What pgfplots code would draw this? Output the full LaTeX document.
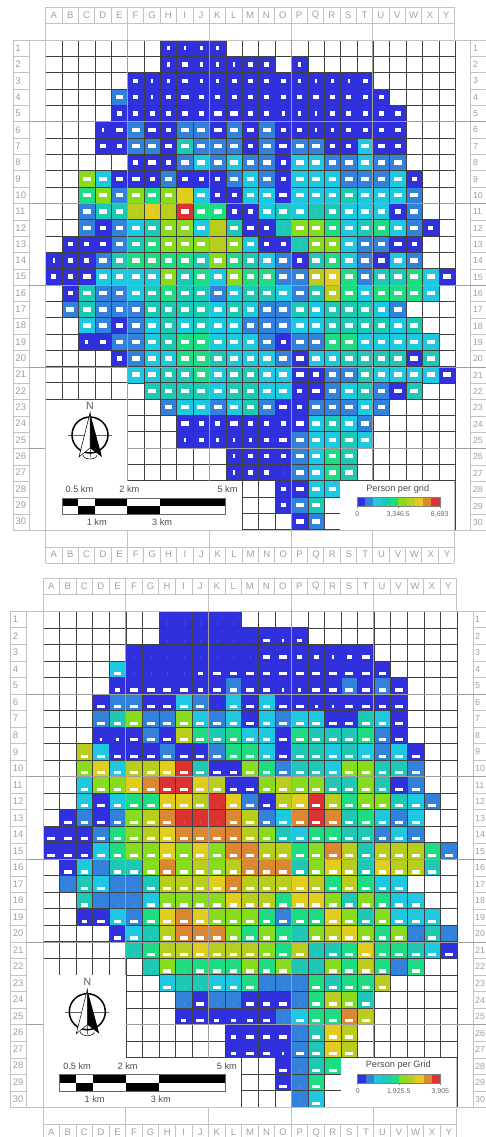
\documentclass[border=0pt]{standalone}
\usepackage{fontspec}
\setmainfont{Liberation Sans}
\usepackage{pgfplots}
\usepackage{pgfplotstable}
\pgfplotsset{compat=1.18}
\usetikzlibrary{plotmarks}

% class colours, lowest to highest
\definecolor{c0}{RGB}{48,48,220}
\definecolor{c1}{RGB}{50,130,220}
\definecolor{c2}{RGB}{30,200,225}
\definecolor{c3}{RGB}{30,200,180}
\definecolor{c4}{RGB}{30,220,130}
\definecolor{c5}{RGB}{135,220,30}
\definecolor{c6}{RGB}{185,205,30}
\definecolor{c7}{RGB}{225,205,30}
\definecolor{c8}{RGB}{220,135,50}
\definecolor{c9}{RGB}{220,50,50}
\definecolor{framegray}{RGB}{195,195,195}
\definecolor{labelgray}{RGB}{160,160,160}

% white markers: centred (upper map), at the cell's foot (lower map)
\pgfdeclareplotmark{wmid}{\pgfpathrectangle{\pgfpoint{-\pgfplotmarksize}{-2.2pt}}{\pgfpoint{2\pgfplotmarksize}{4.4pt}}\pgfusepathqfill}
\pgfdeclareplotmark{wlow}{\pgfpathrectangle{\pgfpoint{-\pgfplotmarksize}{-6.1pt}}{\pgfpoint{2\pgfplotmarksize}{3.3pt}}\pgfusepathqfill}

% columns: x=column, y=row, c=colour class, w=white marker width (0 none)
\pgfplotstableread[row sep=\\]{
x y c w\\
8 1 0 1\\9 1 0 1\\10 1 0 1\\11 1 0 1\\
8 2 0 1\\9 2 0 2\\10 2 0 1\\11 2 0 1\\12 2 0 1\\13 2 0 2\\14 2 0 2\\16 2 0 1\\
6 3 0 2\\7 3 0 1\\8 3 0 1\\9 3 0 2\\10 3 0 1\\11 3 0 1\\12 3 0 2\\13 3 0 2\\14 3 0 2\\15 3 0 2\\16 3 0 1\\17 3 0 1\\18 3 0 1\\19 3 0 1\\20 3 0 2\\
5 4 1 3\\6 4 0 2\\7 4 0 1\\8 4 0 2\\9 4 0 3\\10 4 0 2\\11 4 0 2\\12 4 0 2\\13 4 0 2\\14 4 0 2\\15 4 0 2\\16 4 0 2\\17 4 0 2\\18 4 0 2\\19 4 0 2\\20 4 0 2\\21 4 0 2\\
5 5 0 2\\6 5 0 2\\7 5 0 2\\8 5 0 2\\9 5 0 2\\10 5 0 2\\11 5 0 3\\12 5 0 3\\13 5 0 2\\14 5 0 2\\15 5 0 1\\16 5 0 1\\17 5 0 1\\18 5 0 2\\19 5 0 2\\20 5 0 2\\21 5 0 2\\22 5 0 2\\
4 6 0 1\\5 6 0 3\\6 6 1 3\\7 6 0 3\\8 6 0 2\\9 6 1 3\\10 6 1 3\\11 6 0 3\\12 6 1 3\\13 6 0 3\\14 6 1 3\\15 6 0 2\\16 6 0 2\\17 6 0 1\\18 6 0 1\\19 6 0 2\\20 6 0 2\\21 6 0 2\\22 6 0 2\\
4 7 0 2\\5 7 0 2\\6 7 1 3\\7 7 1 3\\8 7 0 3\\9 7 3 3\\10 7 1 3\\11 7 1 3\\12 7 1 3\\13 7 0 2\\14 7 1 3\\15 7 0 3\\16 7 1 3\\17 7 1 3\\18 7 0 2\\19 7 0 2\\20 7 2 3\\21 7 0 3\\22 7 0 2\\
6 8 0 2\\7 8 0 3\\8 8 0 2\\9 8 1 3\\10 8 2 3\\11 8 1 3\\12 8 2 3\\13 8 1 3\\14 8 1 3\\15 8 0 2\\16 8 2 3\\17 8 2 3\\18 8 1 3\\19 8 1 3\\20 8 2 3\\21 8 1 3\\22 8 1 3\\
3 9 5 3\\4 9 2 3\\5 9 0 3\\6 9 0 3\\7 9 0 2\\8 9 1 3\\9 9 0 2\\10 9 0 2\\11 9 0 2\\12 9 1 3\\13 9 2 3\\14 9 1 3\\15 9 0 2\\16 9 2 3\\17 9 2 3\\18 9 2 3\\19 9 1 3\\20 9 1 3\\21 9 1 3\\22 9 2 3\\23 9 0 2\\
3 10 4 3\\4 10 5 3\\5 10 1 3\\6 10 5 3\\7 10 4 3\\8 10 5 3\\9 10 7 0\\10 10 2 3\\11 10 0 2\\12 10 0 2\\13 10 2 3\\14 10 2 3\\15 10 0 3\\16 10 2 3\\17 10 2 3\\18 10 2 3\\19 10 3 3\\20 10 2 3\\21 10 2 3\\22 10 2 3\\23 10 1 3\\
3 11 1 3\\4 11 3 3\\5 11 3 3\\6 11 6 0\\7 11 7 0\\8 11 6 0\\9 11 9 3\\10 11 4 3\\11 11 4 3\\12 11 0 2\\13 11 0 2\\14 11 2 3\\15 11 3 3\\16 11 2 3\\17 11 3 0\\18 11 3 3\\19 11 2 3\\20 11 2 3\\21 11 2 3\\22 11 0 2\\23 11 1 3\\
3 12 1 3\\4 12 0 2\\5 12 1 3\\6 12 2 3\\7 12 3 3\\8 12 5 3\\9 12 5 3\\10 12 2 3\\11 12 6 0\\12 12 3 3\\13 12 0 3\\14 12 0 2\\15 12 3 0\\16 12 5 3\\17 12 5 3\\18 12 4 3\\19 12 2 3\\20 12 3 3\\21 12 4 3\\22 12 2 3\\23 12 1 3\\24 12 0 2\\
2 13 0 2\\3 13 0 2\\4 13 0 2\\5 13 1 3\\6 13 3 3\\7 13 4 3\\8 13 5 3\\9 13 5 3\\10 13 5 3\\11 13 6 0\\12 13 5 3\\13 13 2 3\\14 13 0 2\\15 13 0 2\\16 13 3 0\\17 13 5 3\\18 13 5 3\\19 13 2 3\\20 13 1 3\\21 13 1 3\\22 13 0 3\\23 13 0 2\\
1 14 0 1\\2 14 0 2\\3 14 0 2\\4 14 1 3\\5 14 3 3\\6 14 4 3\\7 14 4 3\\8 14 4 3\\9 14 4 3\\10 14 3 3\\11 14 5 3\\12 14 4 3\\13 14 3 3\\14 14 2 3\\15 14 1 3\\16 14 0 2\\17 14 3 3\\18 14 4 3\\19 14 2 3\\20 14 1 3\\21 14 0 3\\22 14 2 3\\23 14 1 3\\
1 15 0 2\\2 15 0 2\\3 15 0 3\\4 15 2 3\\5 15 2 3\\6 15 2 3\\7 15 2 3\\8 15 5 3\\9 15 3 3\\10 15 4 3\\11 15 2 3\\12 15 5 3\\13 15 4 3\\14 15 4 3\\15 15 1 3\\16 15 1 3\\17 15 6 3\\18 15 7 3\\19 15 4 3\\20 15 1 3\\21 15 3 3\\22 15 3 3\\23 15 4 3\\24 15 2 3\\25 15 0 3\\
2 16 0 2\\3 16 3 3\\4 16 1 3\\5 16 1 3\\6 16 2 3\\7 16 3 3\\8 16 4 3\\9 16 3 3\\10 16 3 3\\11 16 1 3\\12 16 2 3\\13 16 3 3\\14 16 3 3\\15 16 2 3\\16 16 1 3\\17 16 3 3\\18 16 6 3\\19 16 4 3\\20 16 2 3\\21 16 4 3\\22 16 4 3\\23 16 4 3\\24 16 2 3\\
2 17 1 3\\3 17 3 3\\4 17 1 3\\5 17 1 3\\6 17 1 3\\7 17 3 3\\8 17 3 3\\9 17 3 3\\10 17 3 3\\11 17 2 3\\12 17 3 3\\13 17 2 3\\14 17 1 3\\15 17 1 3\\16 17 3 3\\17 17 2 3\\18 17 3 3\\19 17 3 3\\20 17 3 3\\21 17 2 3\\22 17 1 3\\
3 18 2 3\\4 18 1 3\\5 18 0 3\\6 18 1 3\\7 18 2 3\\8 18 3 3\\9 18 2 3\\10 18 3 3\\11 18 2 3\\12 18 2 3\\13 18 1 3\\14 18 1 3\\15 18 1 3\\16 18 2 3\\17 18 2 3\\18 18 3 3\\19 18 3 3\\20 18 3 3\\21 18 3 3\\22 18 2 3\\23 18 3 3\\
3 19 0 1\\4 19 0 2\\5 19 1 3\\6 19 1 3\\7 19 2 3\\8 19 3 3\\9 19 4 3\\10 19 4 3\\11 19 2 3\\12 19 2 3\\13 19 2 3\\14 19 1 3\\15 19 0 2\\16 19 1 3\\17 19 1 3\\18 19 4 3\\19 19 4 3\\20 19 2 3\\21 19 2 3\\22 19 2 3\\23 19 2 3\\24 19 2 3\\
5 20 0 2\\6 20 1 3\\7 20 2 3\\8 20 2 3\\9 20 4 3\\10 20 4 3\\11 20 3 3\\12 20 2 3\\13 20 2 3\\14 20 2 3\\15 20 1 3\\16 20 0 3\\17 20 2 3\\18 20 2 3\\19 20 3 3\\20 20 3 3\\21 20 3 3\\22 20 3 3\\23 20 0 3\\24 20 3 3\\
6 21 2 3\\7 21 2 3\\8 21 3 3\\9 21 3 3\\10 21 4 3\\11 21 2 3\\12 21 3 3\\13 21 3 3\\14 21 2 3\\15 21 2 3\\16 21 0 3\\17 21 0 2\\18 21 1 3\\19 21 1 3\\20 21 3 3\\21 21 2 3\\22 21 2 3\\23 21 2 3\\24 21 2 3\\25 21 0 3\\
7 22 3 3\\8 22 3 3\\9 22 3 3\\10 22 3 3\\11 22 2 3\\12 22 3 3\\13 22 3 3\\14 22 2 3\\15 22 2 3\\16 22 0 2\\17 22 0 3\\18 22 1 3\\19 22 2 3\\20 22 3 3\\21 22 1 3\\22 22 0 3\\23 22 3 3\\
8 23 1 3\\9 23 2 3\\10 23 2 3\\11 23 1 3\\12 23 2 3\\13 23 3 3\\14 23 1 3\\15 23 0 3\\16 23 0 2\\17 23 1 3\\18 23 1 3\\19 23 1 3\\20 23 2 3\\21 23 1 3\\
9 24 0 3\\10 24 0 2\\11 24 0 2\\12 24 0 3\\13 24 0 2\\14 24 0 2\\15 24 0 2\\16 24 0 3\\17 24 2 3\\18 24 3 3\\19 24 2 3\\20 24 1 3\\
9 25 0 1\\10 25 0 2\\11 25 0 1\\12 25 0 1\\13 25 0 1\\14 25 0 2\\15 25 0 3\\16 25 1 3\\17 25 2 3\\18 25 2 3\\19 25 3 3\\20 25 2 3\\
12 26 0 1\\13 26 0 2\\14 26 0 2\\15 26 0 2\\16 26 1 3\\17 26 2 3\\18 26 4 3\\19 26 3 3\\
12 27 0 1\\13 27 0 2\\14 27 0 2\\15 27 0 0\\16 27 1 3\\17 27 2 3\\18 27 4 3\\19 27 3 3\\
15 28 0 2\\16 28 0 3\\17 28 2 3\\18 28 2 3\\
15 29 0 2\\16 29 1 3\\17 29 3 3\\
16 30 0 3\\17 30 1 3\\
}\mapA

\pgfplotstableread[row sep=\\]{
x y c w\\
8 1 0 0\\9 1 0 0\\10 1 0 0\\11 1 0 0\\12 1 0 0\\
8 2 0 0\\9 2 0 0\\10 2 0 0\\11 2 0 0\\12 2 0 0\\13 2 0 0\\14 2 0 3\\15 2 0 1\\16 2 0 2\\
6 3 0 0\\7 3 0 0\\8 3 0 0\\9 3 0 0\\10 3 0 0\\11 3 0 0\\12 3 0 0\\13 3 0 0\\14 3 0 3\\15 3 0 3\\16 3 0 2\\17 3 0 2\\18 3 0 1\\19 3 0 2\\20 3 0 3\\
5 4 2 3\\6 4 0 0\\7 4 0 0\\8 4 0 0\\9 4 0 0\\10 4 0 2\\11 4 0 3\\12 4 0 3\\13 4 0 3\\14 4 0 3\\15 4 0 3\\16 4 0 3\\17 4 0 3\\18 4 0 3\\19 4 0 3\\20 4 0 3\\21 4 0 3\\
5 5 0 2\\6 5 0 3\\7 5 0 3\\8 5 0 3\\9 5 0 3\\10 5 0 2\\11 5 0 3\\12 5 1 3\\13 5 0 3\\14 5 0 3\\15 5 0 1\\16 5 0 1\\17 5 0 3\\18 5 0 3\\19 5 1 3\\20 5 0 3\\21 5 1 3\\22 5 0 3\\
4 6 0 3\\5 6 1 3\\6 6 1 3\\7 6 0 3\\8 6 0 3\\9 6 2 3\\10 6 1 3\\11 6 0 0\\12 6 2 3\\13 6 0 3\\14 6 2 3\\15 6 0 3\\16 6 0 3\\17 6 0 1\\18 6 0 1\\19 6 0 3\\20 6 0 3\\21 6 0 3\\22 6 0 3\\
4 7 1 3\\5 7 3 3\\6 7 5 3\\7 7 1 3\\8 7 1 3\\9 7 5 3\\10 7 2 3\\11 7 1 3\\12 7 2 3\\13 7 0 3\\14 7 2 3\\15 7 1 3\\16 7 2 3\\17 7 2 3\\18 7 0 3\\19 7 0 3\\20 7 3 3\\21 7 2 3\\22 7 0 3\\
4 8 0 1\\5 8 0 1\\6 8 0 3\\7 8 1 3\\8 8 0 3\\9 8 6 3\\10 8 4 3\\11 8 3 3\\12 8 4 3\\13 8 2 3\\14 8 2 3\\15 8 0 3\\16 8 4 3\\17 8 3 3\\18 8 3 3\\19 8 3 3\\20 8 4 3\\21 8 1 3\\22 8 0 3\\
3 9 6 3\\4 9 2 3\\5 9 0 3\\6 9 0 3\\7 9 0 3\\8 9 1 3\\9 9 0 3\\10 9 0 3\\11 9 1 3\\12 9 4 3\\13 9 4 3\\14 9 2 3\\15 9 0 3\\16 9 3 3\\17 9 3 3\\18 9 2 3\\19 9 3 3\\20 9 2 3\\21 9 1 3\\22 9 2 3\\23 9 0 3\\
3 10 5 3\\4 10 7 3\\5 10 2 3\\6 10 6 3\\7 10 6 3\\8 10 7 3\\9 10 9 3\\10 10 3 3\\11 10 0 3\\12 10 0 3\\13 10 5 3\\14 10 4 3\\15 10 1 3\\16 10 3 3\\17 10 3 3\\18 10 2 3\\19 10 5 3\\20 10 5 3\\21 10 3 3\\22 10 3 3\\23 10 1 3\\
3 11 2 3\\4 11 5 3\\5 11 5 3\\6 11 7 3\\7 11 8 3\\8 11 9 3\\9 11 9 3\\10 11 7 3\\11 11 6 3\\12 11 0 3\\13 11 0 3\\14 11 5 3\\15 11 6 3\\16 11 5 3\\17 11 5 3\\18 11 3 3\\19 11 3 3\\20 11 5 3\\21 11 3 3\\22 11 0 3\\23 11 1 3\\
3 12 2 3\\4 12 0 3\\5 12 2 3\\6 12 4 3\\7 12 4 3\\8 12 7 3\\9 12 7 3\\10 12 6 3\\11 12 9 0\\12 12 7 3\\13 12 1 3\\14 12 0 3\\15 12 6 3\\16 12 7 3\\17 12 9 3\\18 12 6 3\\19 12 4 3\\20 12 5 3\\21 12 5 3\\22 12 3 3\\23 12 2 3\\24 12 1 3\\
2 13 0 3\\3 13 1 3\\4 13 0 3\\5 13 1 3\\6 13 5 3\\7 13 6 3\\8 13 8 3\\9 13 9 0\\10 13 9 0\\11 13 9 0\\12 13 8 3\\13 13 6 3\\14 13 1 3\\15 13 2 3\\16 13 8 3\\17 13 9 3\\18 13 8 3\\19 13 3 3\\20 13 4 3\\21 13 2 3\\22 13 1 3\\23 13 2 3\\
1 14 0 3\\2 14 0 3\\3 14 0 3\\4 14 1 3\\5 14 4 3\\6 14 5 3\\7 14 6 3\\8 14 7 3\\9 14 8 3\\10 14 8 3\\11 14 8 3\\12 14 8 3\\13 14 6 3\\14 14 5 3\\15 14 3 3\\16 14 2 3\\17 14 4 3\\18 14 4 3\\19 14 3 3\\20 14 3 3\\21 14 1 3\\22 14 2 3\\23 14 1 3\\
1 15 0 3\\2 15 0 3\\3 15 0 3\\4 15 2 3\\5 15 4 3\\6 15 5 3\\7 15 5 3\\8 15 7 3\\9 15 5 3\\10 15 7 3\\11 15 5 3\\12 15 8 3\\13 15 8 3\\14 15 6 3\\15 15 6 3\\16 15 4 3\\17 15 5 3\\18 15 8 3\\19 15 6 3\\20 15 3 3\\21 15 6 3\\22 15 6 3\\23 15 6 3\\24 15 4 3\\25 15 1 3\\
2 16 0 3\\3 16 2 3\\4 16 1 0\\5 16 3 3\\6 16 3 3\\7 16 5 3\\8 16 8 3\\9 16 5 3\\10 16 6 3\\11 16 5 3\\12 16 6 3\\13 16 8 3\\14 16 8 3\\15 16 8 3\\16 16 3 3\\17 16 5 3\\18 16 7 3\\19 16 6 3\\20 16 3 3\\21 16 7 3\\22 16 6 3\\23 16 6 3\\24 16 3 3\\
2 17 1 0\\3 17 3 3\\4 17 2 3\\5 17 1 0\\6 17 1 0\\7 17 3 3\\8 17 6 3\\9 17 6 3\\10 17 6 3\\11 17 7 3\\12 17 8 3\\13 17 6 3\\14 17 6 3\\15 17 6 3\\16 17 7 3\\17 17 6 3\\18 17 4 3\\19 17 6 3\\20 17 4 3\\21 17 2 3\\22 17 2 3\\
3 18 3 3\\4 18 1 0\\5 18 1 0\\6 18 1 0\\7 18 2 3\\8 18 5 3\\9 18 5 3\\10 18 5 3\\11 18 5 3\\12 18 7 3\\13 18 6 3\\14 18 6 3\\15 18 4 3\\16 18 7 3\\17 18 7 3\\18 18 5 3\\19 18 3 3\\20 18 5 3\\21 18 4 3\\22 18 2 3\\23 18 2 3\\
3 19 0 2\\4 19 0 3\\5 19 2 3\\6 19 1 3\\7 19 4 3\\8 19 7 3\\9 19 8 3\\10 19 7 3\\11 19 5 3\\12 19 5 3\\13 19 5 3\\14 19 4 3\\15 19 1 3\\16 19 4 3\\17 19 4 3\\18 19 7 3\\19 19 5 3\\20 19 3 3\\21 19 5 3\\22 19 2 3\\23 19 2 3\\24 19 2 3\\
5 20 0 3\\6 20 2 3\\7 20 3 0\\8 20 6 3\\9 20 8 3\\10 20 8 3\\11 20 8 3\\12 20 5 3\\13 20 4 3\\14 20 5 3\\15 20 4 3\\16 20 3 0\\17 20 5 3\\18 20 6 3\\19 20 7 3\\20 20 5 3\\21 20 4 3\\22 20 5 3\\23 20 1 0\\24 20 3 3\\25 20 1 0\\
6 21 3 0\\7 21 4 3\\8 21 6 3\\9 21 6 3\\10 21 7 3\\11 21 6 3\\12 21 6 3\\13 21 6 3\\14 21 5 3\\15 21 4 3\\16 21 6 3\\17 21 3 0\\18 21 3 3\\19 21 4 3\\20 21 7 3\\21 21 4 3\\22 21 4 3\\23 21 3 3\\24 21 2 3\\25 21 0 3\\
7 22 3 0\\8 22 5 3\\9 22 4 0\\10 22 4 3\\11 22 4 3\\12 22 4 3\\13 22 5 3\\14 22 4 3\\15 22 5 3\\16 22 3 0\\17 22 3 0\\18 22 5 3\\19 22 4 3\\20 22 6 3\\21 22 4 3\\22 22 1 0\\23 22 4 3\\
8 23 2 3\\9 23 3 0\\10 23 3 0\\11 23 2 3\\12 23 2 3\\13 23 4 3\\14 23 1 0\\15 23 1 0\\16 23 1 0\\17 23 4 3\\18 23 3 3\\19 23 4 3\\20 23 4 3\\21 23 6 3\\
9 24 1 0\\10 24 0 3\\11 24 1 0\\12 24 1 0\\13 24 0 3\\14 24 0 3\\15 24 0 3\\16 24 1 0\\17 24 4 3\\18 24 6 3\\19 24 5 3\\20 24 3 3\\
9 25 0 2\\10 25 0 3\\11 25 0 2\\12 25 0 2\\13 25 0 2\\14 25 0 3\\15 25 1 0\\16 25 2 3\\17 25 4 3\\18 25 4 3\\19 25 8 3\\20 25 6 3\\
12 26 0 2\\13 26 0 3\\14 26 0 3\\15 26 0 3\\16 26 1 0\\17 26 3 3\\18 26 7 3\\19 26 6 3\\
12 27 0 2\\13 27 0 3\\14 27 0 3\\15 27 0 1\\16 27 1 3\\17 27 3 3\\18 27 7 3\\19 27 6 3\\
15 28 0 3\\16 28 1 0\\17 28 3 3\\18 28 4 3\\
15 29 0 3\\16 29 1 0\\17 29 4 3\\
16 30 1 0\\17 30 2 3\\
}\mapB

\pgfplotsset{
  gridmap/.style={
    scale only axis,
    anchor=north west,
    xmin=0.5, xmax=25.5,
    ymin=0.5, ymax=30.5,
    y dir=reverse,
    xtick={1,...,25},
    xticklabels={A,B,C,D,E,F,G,H,I,J,K,L,M,N,O,P,Q,R,S,T,U,V,W,X,Y},
    ytick={1,...,30},
    yticklabels={1,2,3,4,5,6,7,8,9,10,11,12,13,14,15,16,17,18,19,20,21,22,23,24,25,26,27,28,29,30},
    minor xtick={0.5,1.5,...,25.5},
    minor ytick={0.5,1.5,...,30.5},
    xminorgrids=true, yminorgrids=true,
    minor grid style={black!75, line width=0.6pt},
    major tick length=0pt, minor tick length=0pt,
    axis line style={black!75, line width=0.6pt},
    axis on top,
    xticklabel shift=21pt, yticklabel shift=20pt,
    x tick label style={inner sep=0pt, text height=7pt, text depth=0pt, text=labelgray, font=\fontsize{9.5}{9.5}\selectfont},
    y tick label style={inner sep=0pt, text width=10pt, align=left, text=labelgray, font=\fontsize{9.5}{9.5}\selectfont},
    colormap={classes}{rgb255(0pt)=(48,48,220) rgb255(1pt)=(50,130,220) rgb255(2pt)=(30,200,225) rgb255(3pt)=(30,200,180) rgb255(4pt)=(30,220,130) rgb255(5pt)=(135,220,30) rgb255(6pt)=(185,205,30) rgb255(7pt)=(225,205,30) rgb255(8pt)=(220,135,50) rgb255(9pt)=(220,50,50)},
    point meta min=0, point meta max=9,
  },
  cells/.style={
    scatter, only marks, scatter src=explicit,
    mark=square*, mark size=#1,
    mark options={line width=0.6pt},
    scatter/use mapped color={draw=black!75, fill=mapped color},
  },
  whites/.style={
    scatter, only marks,
    mark=#1,
    visualization depends on={\thisrow{w}\as\wv},
    scatter/use mapped color={draw=none, fill=white},
    scatter/@pre marker code/.append style={/tikz/mark size={\wv*1.3}},
  },
}

% outer reference frame; #1,#2 = top left of the cell block, #3 = cell size
\newcommand{\mapframe}[3]{
  \begin{scope}[framegray, line width=0.7pt]
    \foreach \i in {0,...,25} {
      \draw (#1+\i*#3,#2-2*#3) -- (#1+\i*#3,#2-#3);
      \draw (#1+\i*#3,#2+31*#3) -- (#1+\i*#3,#2+32*#3);
    }
    \foreach \i in {0,5,10,15,20,25} {
      \draw (#1+\i*#3,#2-#3) -- (#1+\i*#3,#2);
      \draw (#1+\i*#3,#2+30*#3) -- (#1+\i*#3,#2+31*#3);
    }
    \foreach \k in {-2,-1,31,32}
      \draw (#1,#2+\k*#3) -- (#1+25*#3,#2+\k*#3);
    \foreach \j in {0,...,30} {
      \draw (#1-2*#3,#2+\j*#3) -- (#1-#3,#2+\j*#3);
      \draw (#1+26*#3,#2+\j*#3) -- (#1+27*#3,#2+\j*#3);
    }
    \foreach \k in {-2,-1,0,26,27}
      \draw (#1+\k*#3,#2) -- (#1+\k*#3,#2+30*#3);
    \foreach \j in {0,30}
      \draw (#1-#3,#2+\j*#3) -- (#1+27*#3,#2+\j*#3);
    \foreach \j in {5,10,15,20,25}
      \draw[gray!75] (#1-#3,#2+\j*#3) -- (#1+27*#3,#2+\j*#3);
    \foreach \i in {5,10,15,20}
      \draw[gray!75] (#1+\i*#3,#2) -- (#1+\i*#3,#2+30*#3);
  \end{scope}
  % top and right copies of the reference labels
  \foreach \t [count=\i from 0] in {A,B,C,D,E,F,G,H,I,J,K,L,M,N,O,P,Q,R,S,T,U,V,W,X,Y}
    \node[text=labelgray, font=\fontsize{9.5}{9.5}\selectfont] at (#1+\i*#3+0.5*#3,#2-1.5*#3) {\t};
  \foreach \j in {1,...,30}
    \node[anchor=west, inner sep=0pt, text=labelgray, font=\fontsize{8.8}{8.8}\selectfont] at (#1+26*#3+2,#2+\j*#3-0.5*#3) {\j};
}

% white panels for compass, scale bar and legend, then the scale bar itself
\newcommand{\panels}[3]{
  \fill[white] (#1,#2+22*#3) rectangle (#1+5*#3,#2+27*#3);
  \fill[white] (#1,#2+27*#3) rectangle (#1+12*#3,#2+30*#3);
  \fill[white] (#1+18*#3,#2+27*#3) rectangle (#1+25*#3,#2+30*#3);
  \draw[framegray, line width=0.7pt] (#1,#2+22*#3) -- (#1,#2+30*#3) -- (#1+12*#3,#2+30*#3);
  \draw[framegray, line width=0.7pt] (#1+18*#3,#2+30*#3) -- (#1+25*#3,#2+30*#3) -- (#1+25*#3,#2+27*#3);
  \fill[black] (#1+1*#3,#2+28*#3) rectangle (#1+2*#3,#2+28.5*#3);
  \fill[black] (#1+3*#3,#2+28*#3) rectangle (#1+5*#3,#2+28.5*#3);
  \fill[black] (#1+7*#3,#2+28*#3) rectangle (#1+11*#3,#2+28.5*#3);
  \fill[black] (#1+2*#3,#2+28.5*#3) rectangle (#1+3*#3,#2+29*#3);
  \fill[black] (#1+5*#3,#2+28.5*#3) rectangle (#1+7*#3,#2+29*#3);
  \draw[black!60, line width=0.6pt] (#1+1*#3,#2+28*#3) rectangle (#1+11*#3,#2+29*#3);
  \begin{scope}[every node/.style={text=black!70, font=\fontsize{9.2}{9.2}\selectfont}]
    \node at (#1+2*#3+1,#2+27.5*#3) {0.5 km};
    \node at (#1+5*#3+2,#2+27.5*#3) {2 km};
    \node at (#1+11*#3+2,#2+27.5*#3) {5 km};
    \node at (#1+3*#3+2,#2+29.5*#3) {1 km};
    \node at (#1+7*#3+2,#2+29.5*#3) {3 km};
  \end{scope}
}

\newcommand{\compass}[2]{
  \node[text=black!65, font=\fontsize{10.5}{10.5}\selectfont] at (#1,#2-29.5) {N};
  \draw[black!60, line width=0.4pt] (#1-22,#2) -- (#1+22,#2);
  \draw[black!60, line width=0.4pt] (#1,#2-22) -- (#1,#2+22);
  \draw[black, line width=1.5pt] (#1,#2) circle (18);
  \fill[black] (#1,#2-22) -- (#1+12,#2+22) -- (#1,#2+13) -- cycle;
  \draw[black, line width=0.5pt, fill=white] (#1,#2-22) -- (#1-11,#2+22) -- (#1,#2+13) -- cycle;
  \draw[black, line width=0.5pt] (#1-7,#2+20) arc (180:0:7 and 4);
}

% discrete legend; #1,#2 = top left of the bar
\newcommand{\classbar}[6]{
  \foreach \i [evaluate=\i as \n using {int(\i+1)}] in {0,...,9}
    \fill[c\i] (#1+\i*8.3,#2) rectangle (#1+\n*8.3,#2+8.8);
  \draw[black!50, line width=0.4pt] (#1,#2) rectangle (#1+83,#2+8.8);
  \foreach \f in {0,41.5,83}
    \draw[black!50, line width=0.4pt] (#1+\f,#2+8.8) -- (#1+\f,#2+10.8);
  \node[text=black!70, font=\fontsize{9.2}{9.2}\selectfont] at (#1+41,#2-8.6) {#3};
  \begin{scope}[every node/.style={text=black!60, font=\fontsize{7}{7}\selectfont}]
    \node at (#1+0.5,#2+17) {#4};
    \node at (#1+41.5,#2+17) {#5};
    \node at (#1+83,#2+17) {#6};
  \end{scope}
}

\begin{document}
\begin{tikzpicture}
  \begin{axis}[gridmap, at={(45.7pt,-40pt)}, width=409.6pt, height=489.7pt]
    \addplot[cells=8.2pt] table[x=x, y=y, meta=c] {\mapA};
    \addplot[whites=wmid] table[x=x, y=y, meta=c] {\mapA};
  \end{axis}
  \begin{axis}[gridmap, at={(43pt,-611.3pt)}, width=414pt, height=495.7pt]
    \addplot[cells=8.3pt] table[x=x, y=y, meta=c] {\mapB};
    \addplot[whites=wlow] table[x=x, y=y, meta=c] {\mapB};
  \end{axis}
  \begin{scope}[x=1pt, y=-1pt]
    \mapframe{45.7}{40}{16.35}
    \panels{45.7}{40}{16.35}
    \compass{90}{435}
    \classbar{356.7}{497.3}{Person per grid}{0}{3,346.5}{6,693}
    \mapframe{43}{611.3}{16.54}
    \panels{43}{611.3}{16.54}
    \compass{87.3}{1011.7}
    \classbar{357.3}{1074}{Person per Grid}{0}{1,925.5}{3,905}
  \end{scope}
  \pgfresetboundingbox
  \useasboundingbox (0pt,0pt) rectangle (485pt,-1137pt);
\end{tikzpicture}
\end{document}
